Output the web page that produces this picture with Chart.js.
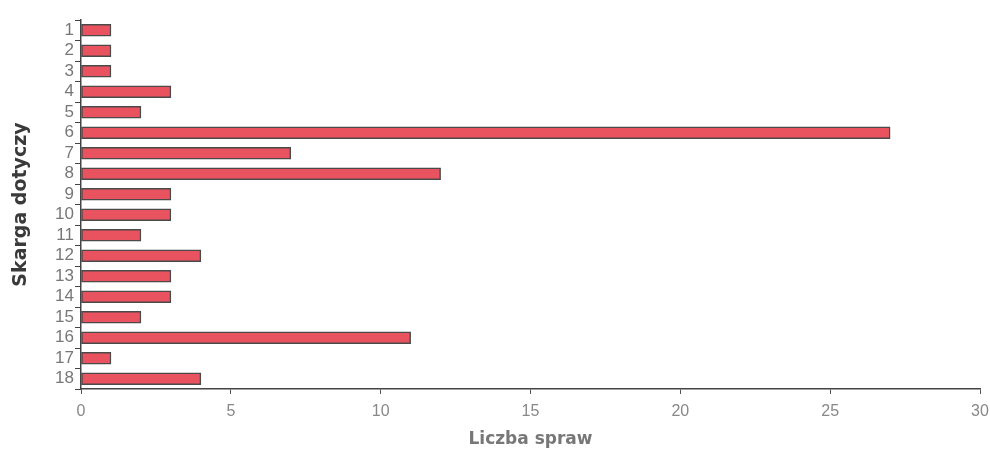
<!DOCTYPE html>
<html>
<head>
<meta charset="utf-8">
<script src="https://cdn.jsdelivr.net/npm/chart.js@4.4.0/dist/chart.umd.min.js"></script>
<style>
  html, body { margin: 0; padding: 0; background: #fff; }
  #wrap { width: 990px; height: 455px; }
</style>
</head>
<body>
<div id="wrap"><canvas id="skargiChart" width="990" height="455"></canvas></div>
<script>
// categories and values
const categories = ['1','2','3','4','5','6','7','8','9','10','11','12','13','14','15','16','17','18'];
const caseCounts = [1, 1, 1, 3, 2, 27, 7, 12, 3, 3, 2, 4, 3, 3, 2, 11, 1, 4];
const xTicks = [0, 5, 10, 15, 20, 25, 30];

const ctx = document.getElementById('skargiChart').getContext('2d');
const skargiChart = new Chart(ctx, {
  type: 'bar',
  data: {
    labels: categories,
    datasets: [{
      label: 'Liczba spraw',
      data: caseCounts,
      backgroundColor: '#e9535f',
      borderColor: '#4a4a4a',
      borderWidth: 1.5,
      borderSkipped: false,
      barThickness: 12
    }]
  },
  options: {
    indexAxis: 'y',
    responsive: false,
    animation: false,
    layout: { padding: { top: 20, right: 10, left: 6, bottom: 2 } },
    plugins: {
      legend: { display: false },
      tooltip: { enabled: false }
    },
    scales: {
      x: {
        min: 0,
        max: 30,
        afterBuildTicks: function(scale) {
          scale.ticks = xTicks.map(v => ({ value: v }));
        },
        afterFit: function(scale) {
          scale.height = 64;
          scale.paddingRight = 0;
        },
        grid: { drawOnChartArea: false, tickLength: 5, color: '#555' },
        border: { color: '#444', width: 1.5 },
        ticks: {
          color: '#888',
          padding: 8,
          font: { family: 'Liberation Sans', size: 16 }
        },
        title: {
          display: true,
          text: 'Liczba spraw',
          color: '#777',
          padding: { top: 1, bottom: 3 },
          font: { family: 'DejaVu Sans', size: 17, weight: 'bold' }
        }
      },
      y: {
        afterFit: function(scale) { scale.width = 75; },
        grid: { drawOnChartArea: false, tickLength: 6, color: '#444' },
        border: { color: '#444', width: 1.5 },
        ticks: {
          autoSkip: false,
          color: '#777',
          padding: 1,
          font: { family: 'Liberation Sans', size: 17 }
        },
        title: {
          display: true,
          text: 'Skarga dotyczy',
          color: '#3a3a3a',
          padding: { bottom: 0 },
          font: { family: 'DejaVu Sans', size: 19, weight: 'bold' }
        }
      }
    }
  }
});
</script>
</body>
</html>
